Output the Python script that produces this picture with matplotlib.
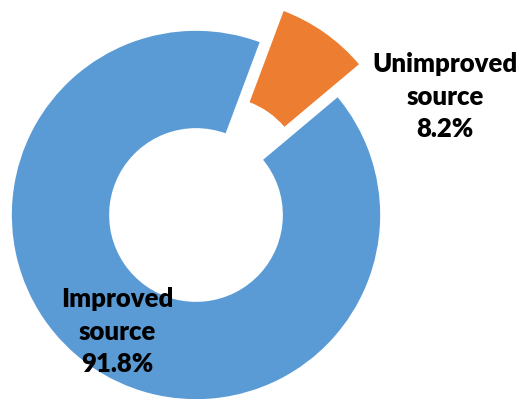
import matplotlib
matplotlib.use("Agg")
import matplotlib.pyplot as plt

categories = ["Improved source", "Unimproved source"]
values = [91.8, 8.2]
labels = ["Improved\nsource\n91.8%", "Unimproved\nsource\n8.2%"]
colors = ["#5B9BD5", "#ED7D31"]

W, H = 519, 399
fig = plt.figure(figsize=(W / 100, H / 100), dpi=100)
ax = fig.add_axes([0, 0, 1, 1])

R = 185.0  # pixels per unit radius
cx, cy = 196.0, 215.0

ax.pie(values, colors=colors, startangle=40, counterclock=False,
       explode=(0, 0.21), radius=1.0,
       wedgeprops=dict(width=0.535, edgecolor="white", linewidth=1.2))

ax.set_xlim(-cx / R, (W - cx) / R)
ax.set_ylim(-(H - cy) / R, cy / R)
ax.set_aspect("equal")
ax.axis("off")

def px(x, y):
    return ((x - cx) / R, (cy - y) / R)

font = dict(family=["Lato", "DejaVu Sans"], fontweight="heavy", fontsize=18.5,
            color="#000000", ha="center", va="baseline", linespacing=1.42)
ax.text(*px(117, 372), labels[0], **font)
ax.text(*px(445, 137), labels[1], **font)

fig.savefig("out.png", dpi=100)
